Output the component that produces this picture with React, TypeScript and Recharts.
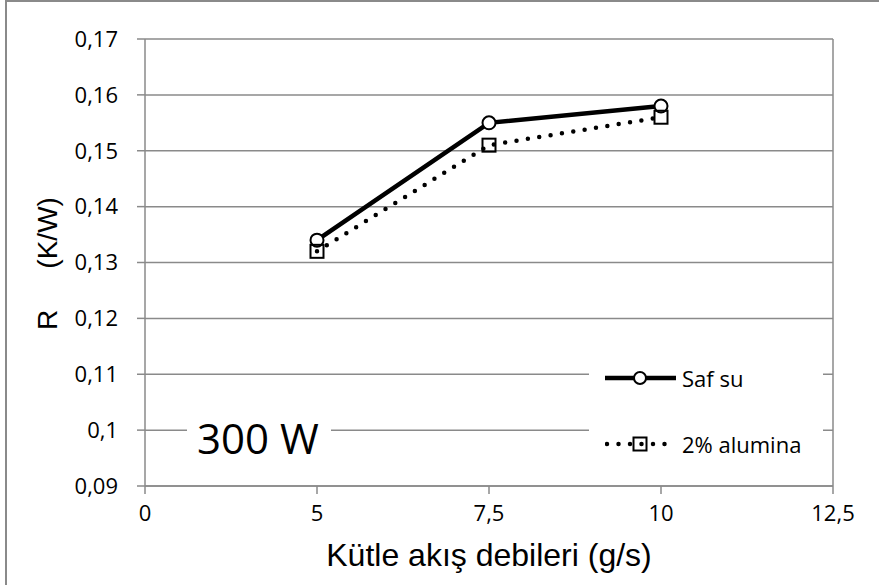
import { LineChart, Line, XAxis, YAxis, CartesianGrid, Legend } from 'recharts'

const categories = ['0', '5', '7,5', '10', '12,5']
const safSu = [null, 0.134, 0.155, 0.158, null]
const alumina = [null, 0.132, 0.151, 0.156, null]
const yTicks = [0.09, 0.1, 0.11, 0.12, 0.13, 0.14, 0.15, 0.16, 0.17]

const data = categories.map((c, i) => ({ x: c, safSu: safSu[i], alumina: alumina[i] }))

const GRID = '#8a8a8a'
const TICK_FONT = { fill: '#000', fontSize: 22, fontFamily: 'Open Sans' }

function CircleDot(props: any) {
  const { cx, cy, value, index } = props
  if (cx == null || cy == null || value == null) return <g key={`c${index}`} />
  return <circle key={`c${index}`} cx={cx} cy={cy} r={6.5} fill="#fff" stroke="#000" strokeWidth={2} />
}

function SquareDot(props: any) {
  const { cx, cy, value, index } = props
  if (cx == null || cy == null || value == null) return <g key={`s${index}`} />
  return <rect key={`s${index}`} x={cx - 6.5} y={cy - 6.5} width={13} height={13} fill="none" stroke="#000" strokeWidth={2} />
}

function LegendBox() {
  return (
    <div style={{ position: 'relative', width: 234, height: 135, background: '#fff' }}>
      <div style={{ position: 'absolute', left: 16, top: 28, height: 30, display: 'flex', alignItems: 'center' }}>
        <svg width={72} height={30}>
          <line x1={0} y1={15} x2={71} y2={15} stroke="#000" strokeWidth={4.5} />
          <circle cx={35} cy={15} r={6} fill="#fff" stroke="#000" strokeWidth={2} />
        </svg>
        <span style={{ marginLeft: 5, fontSize: 22, fontFamily: 'Open Sans', color: '#000' }}>Saf su</span>
      </div>
      <div style={{ position: 'absolute', left: 16, top: 94, height: 30, display: 'flex', alignItems: 'center' }}>
        <svg width={72} height={30}>
          <line x1={2} y1={15} x2={64} y2={15} stroke="#000" strokeWidth={4.5} strokeDasharray="0 11.5" strokeLinecap="round" />
          <rect x={28.5} y={8.5} width={13} height={13} fill="none" stroke="#000" strokeWidth={2} />
        </svg>
        <span style={{ marginLeft: 5, fontSize: 22, fontFamily: 'Open Sans', color: '#000' }}>2% alumina</span>
      </div>
    </div>
  )
}

export default function App() {
  return (
    <div style={{ position: 'absolute', left: 0, top: 0, width: 879, height: 585, overflow: 'hidden', background: '#fff' }}>
      <div style={{ position: 'absolute', left: 5, top: 0, width: 880, height: 590, border: '2px solid #8a8a8a' }} />
      <LineChart width={879} height={585} data={data} margin={{ top: 39, right: 46, left: 0, bottom: 0 }}>
        <CartesianGrid
          vertical
          stroke={GRID}
          strokeWidth={1.5}
          verticalCoordinatesGenerator={({ offset }: any) => [offset.left + offset.width]}
        />
        <XAxis
          dataKey="x"
          type="category"
          interval={0}
          height={99}
          tick={TICK_FONT}
          tickSize={8}
          tickMargin={11}
          axisLine={{ stroke: GRID, strokeWidth: 1.5 }}
          tickLine={{ stroke: GRID, strokeWidth: 1.5 }}
          label={(p: any) => {
            const vb = p.viewBox
            return (
              <text x={vb.x + vb.width / 2} y={vb.y + 80} textAnchor="middle" fontSize={32} fontFamily="Liberation Sans" fill="#000">
                Kütle akış debileri (g/s)
              </text>
            )
          }}
        />
        <YAxis
          type="number"
          domain={[0.09, 0.17]}
          ticks={yTicks}
          width={145}
          tick={TICK_FONT}
          tickSize={8}
          tickMargin={19}
          tickFormatter={(v: number) => String(v).replace('.', ',')}
          axisLine={{ stroke: GRID, strokeWidth: 1.5 }}
          tickLine={{ stroke: GRID, strokeWidth: 1.5 }}
          label={(p: any) => {
            const vb = p.viewBox
            const cy = vb.y + vb.height / 2 + 1
            return (
              <text transform={`translate(57, ${cy}) rotate(-90)`} textAnchor="middle" fontSize={28} fontFamily="Liberation Sans" fill="#000">
                <tspan>R</tspan>
                <tspan dx={41}>(K/W)</tspan>
              </text>
            )
          }}
        />
        <Legend
          layout="vertical"
          align="center"
          verticalAlign="middle"
          wrapperStyle={{ left: 589, top: 335, width: 234, height: 135 }}
          content={() => <LegendBox />}
        />
        <Line
          name="Saf su"
          dataKey="safSu"
          stroke="#000"
          strokeWidth={4.5}
          dot={CircleDot}
          activeDot={false}
          isAnimationActive={false}
        />
        <Line
          name="2% alumina"
          dataKey="alumina"
          stroke="#000"
          strokeWidth={4.5}
          strokeDasharray="0 11.5"
          strokeLinecap="round"
          dot={SquareDot}
          activeDot={false}
          isAnimationActive={false}
        />
      </LineChart>
      <div
        style={{
          position: 'absolute',
          left: 187,
          top: 409,
          width: 134,
          height: 57,
          paddingLeft: 10,
          background: '#fff',
          fontSize: 42,
          lineHeight: '57px',
          fontFamily: 'Open Sans',
          color: '#000',
        }}
      >
        300 W
      </div>
    </div>
  )
}
